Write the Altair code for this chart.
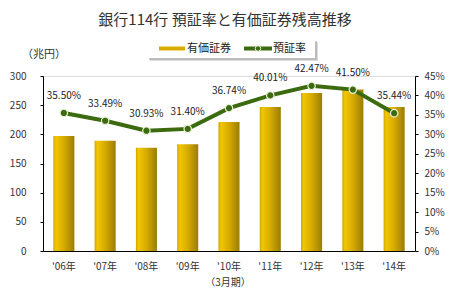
import altair as alt
import pandas as pd

years = ["'06年", "'07年", "'08年", "'09年", "'10年", "'11年", "'12年", "'13年", "'14年"]
securities = [197, 189, 177, 183, 221, 247, 271, 277, 247]
ratio = [35.50, 33.49, 30.93, 31.40, 36.74, 40.01, 42.47, 41.50, 35.44]
ratio_labels = ["35.50%", "33.49%", "30.93%", "31.40%", "36.74%", "40.01%", "42.47%", "41.50%", "35.44%"]

df = pd.DataFrame({"year": years, "sec": securities, "ratio": ratio, "lab": ratio_labels})

FONT = "Noto Sans CJK JP"
GREEN = "#3b6b0e"

xenc = alt.X("year:N", sort=years, title=None,
             scale=alt.Scale(paddingInner=0.49, paddingOuter=0.25),
             axis=alt.Axis(labelFont=FONT, labelFontSize=10, labelColor="#333", labelAngle=0,
                           domainColor="#000", tickSize=0, labelPadding=10, labelFlush=False))

bars = alt.Chart(df).mark_bar(
    color=alt.Gradient(gradient="linear", x1=0, x2=1, y1=0, y2=0,
                       stops=[alt.GradientStop(offset=0, color="#cfa400"),
                              alt.GradientStop(offset=0.12, color="#f2c600"),
                              alt.GradientStop(offset=0.5, color="#d6ab00"),
                              alt.GradientStop(offset=1, color="#9a7c06")])
).encode(
    x=xenc,
    y=alt.Y("sec:Q", title=None,
            scale=alt.Scale(domain=[0, 300], nice=False),
            axis=alt.Axis(values=[0, 50, 100, 150, 200, 250, 300], orient="left", grid=False,
                          labelFont=FONT, labelFontSize=10, labelColor="#333",
                          domainColor="#000", tickColor="#000", tickSize=3, labelPadding=14))
)

yr = alt.Y("ratio:Q", title=None,
           scale=alt.Scale(domain=[0, 45], nice=False),
           axis=alt.Axis(values=[0, 5, 10, 15, 20, 25, 30, 35, 40, 45], orient="right", grid=False,
                         labelExpr="datum.value + '%'",
                         labelFont=FONT, labelFontSize=10, labelColor="#333",
                         domainColor="#000", tickColor="#000", tickSize=3, labelPadding=6))

line = alt.Chart(df).mark_line(color=GREEN, strokeWidth=4).encode(x=xenc, y=yr)
pts = alt.Chart(df).mark_point(filled=True, fill=GREEN, stroke="#e8f0d8", strokeWidth=1.2,
                               size=55, opacity=1).encode(x=xenc, y=yr)
labels = alt.Chart(df).mark_text(font=FONT, fontSize=10, color="#222", dy=-17).encode(
    x=xenc, y=yr, text="lab:N")

right = alt.layer(line, pts, labels)

# decorations: title, units, legend
OX, OY = 43, 76
deco_df = pd.DataFrame({"a": [0]})
def txt(s, x, y, size, color="#333", align="center"):
    return alt.Chart(deco_df).mark_text(text=s, font=FONT, fontSize=size, color=color, align=align,
                                        baseline="middle").encode(x=alt.value(x - OX), y=alt.value(y - OY))

title = txt("銀行114行  預証率と有価証券残高推移", 225, 20, 15, "#333")
unit = txt("（兆円）", 44, 55, 11, "#333")
period = txt("（3月期）", 228, 283, 10, "#333")

def rect(x1, y1, x2, y2, color, opacity=1.0):
    return alt.Chart(deco_df).mark_rect(color=color, opacity=opacity).encode(
        x=alt.value(x1 - OX), x2=alt.value(x2 - OX), y=alt.value(y1 - OY), y2=alt.value(y2 - OY))

shadow1 = rect(150, 42, 318, 61, "#bbbbbb", 0.5)
shadow2 = rect(149, 41, 317, 60, "#999999", 0.5)
box = rect(147, 39, 315, 58, "#ffffff")
gold_sw = rect(159, 46.5, 185, 50.5, "#d8ad00")
green_sw = alt.Chart(deco_df).mark_rule(color=GREEN, strokeWidth=4).encode(
    x=alt.value(244 - OX), x2=alt.value(272 - OX), y=alt.value(48.5 - OY))
green_dot = alt.Chart(deco_df).mark_point(filled=True, fill=GREEN, stroke="#e8f0d8", strokeWidth=1, size=30, opacity=1).encode(
    x=alt.value(258 - OX), y=alt.value(48.5 - OY))
leg1 = txt("有価証券", 187, 48.5, 11, "#222", "left")
leg2 = txt("預証率", 273, 48.5, 11, "#222", "left")

chart = alt.layer(
    bars, right,
    title, unit, period, shadow1, shadow2, box, gold_sw, green_sw, green_dot, leg1, leg2
).resolve_scale(y="independent").properties(
    width=372, height=175,
    autosize=alt.AutoSizeParams(type="none"),
    padding={"left": OX, "top": OY, "right": 35, "bottom": 48},
).configure_view(stroke=None).configure(background="white")

chart.save("out.html", embed_options={"renderer": "svg", "actions": False})
